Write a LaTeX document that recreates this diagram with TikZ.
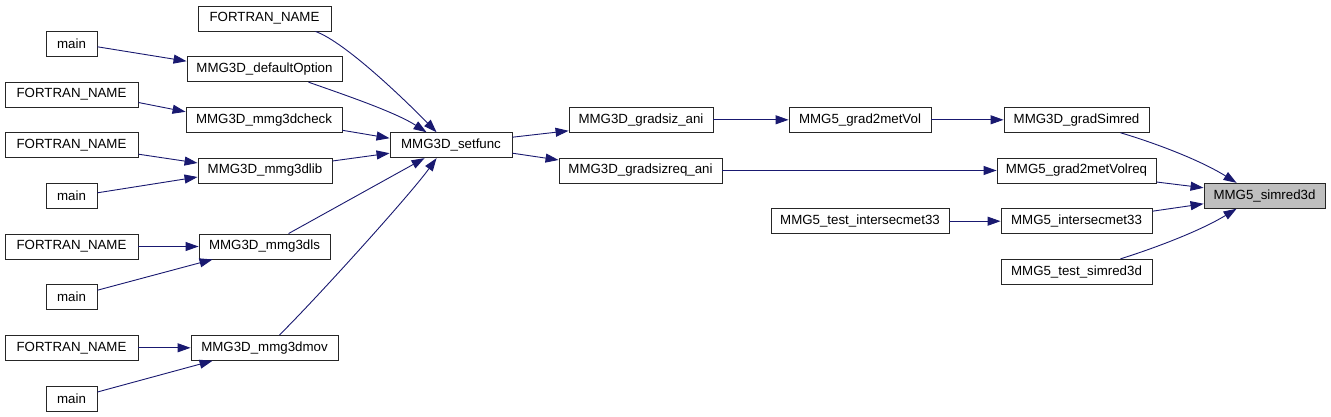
\documentclass[tikz,border=0pt]{standalone}
\usepackage{fontspec}
\setmainfont{Liberation Sans}
\usetikzlibrary{arrows.meta}
\definecolor{edgecol}{RGB}{25,25,112}
\definecolor{hl}{RGB}{191,191,191}
\begin{document}
\begin{tikzpicture}[x=1pt,y=-1pt,
  box/.style={draw=black!85, line width=0.9pt, fill=white, inner sep=0pt,
    minimum height=25pt, font=\fontsize{13.3}{16}\selectfont},
  edge/.style={draw=edgecol, line width=0.9pt, -{Triangle[length=13pt,width=9pt]}}]
\useasboundingbox[fill=white] (0,0) rectangle (1331,417);
% left column
\node[box,minimum width=133pt] (fn1) at (264.5,18.5) {FORTRAN\_NAME};
\node[box,minimum width=51pt] (m1) at (71.5,43.8) {main};
\node[box,minimum width=155pt] (defopt) at (264.5,69.2) {MMG3D\_defaultOption};
\node[box,minimum width=133pt] (fn2) at (71.5,94.5) {FORTRAN\_NAME};
\node[box,minimum width=156pt] (check) at (264,119.8) {MMG3D\_mmg3dcheck};
\node[box,minimum width=133pt] (fn3) at (71.5,145.2) {FORTRAN\_NAME};
\node[box,minimum width=134pt] (lib) at (265,170.5) {MMG3D\_mmg3dlib};
\node[box,minimum width=51pt] (m2) at (71.5,195.8) {main};
\node[box,minimum width=133pt] (fn4) at (71.5,246.5) {FORTRAN\_NAME};
\node[box,minimum width=131pt] (dls) at (264.5,246.5) {MMG3D\_mmg3dls};
\node[box,minimum width=51pt] (m3) at (71.5,297.2) {main};
\node[box,minimum width=133pt] (fn5) at (71.5,347.8) {FORTRAN\_NAME};
\node[box,minimum width=147pt] (dmov) at (264.5,347.8) {MMG3D\_mmg3dmov};
\node[box,minimum width=51pt] (m4) at (71.5,398.5) {main};
% middle
\node[box,minimum width=122pt] (setf) at (451,145.2) {MMG3D\_setfunc};
\node[box,minimum width=144pt] (gsa) at (641,119.8) {MMG3D\_gradsiz\_ani};
\node[box,minimum width=163pt] (gsra) at (640.5,170.5) {MMG3D\_gradsizreq\_ani};
\node[box,minimum width=142pt] (g2mv) at (860,119.8) {MMG5\_grad2metVol};
\node[box,minimum width=178pt] (tint) at (860,221.2) {MMG5\_test\_intersecmet33};
% right
\node[box,minimum width=145pt] (gsim) at (1076.5,119.8) {MMG3D\_gradSimred};
\node[box,minimum width=159pt] (g2mvr) at (1076.5,170.5) {MMG5\_grad2metVolreq};
\node[box,minimum width=151pt] (inter) at (1076.5,221.2) {MMG5\_intersecmet33};
\node[box,minimum width=151pt] (tsim) at (1076.5,271.8) {MMG5\_test\_simred3d};
\node[box,minimum width=121pt,fill=hl] (sim) at (1264.5,195.8) {MMG5\_simred3d};
% edges left
\draw[edge] ([yshift=-3pt]m1.east) -- ([yshift=8pt]defopt.west);
\draw[edge] ([yshift=-8pt]fn2.east) -- ([yshift=8pt]check.west);
\draw[edge] ([yshift=-9pt]fn3.east) -- ([yshift=7.5pt]lib.west);
\draw[edge] ([yshift=3pt]m2.east) -- ([yshift=-6.5pt]lib.west);
\draw[edge] (fn4.east) -- (dls.west);
\draw[edge] ([yshift=7pt]m3.east) -- ([xshift=14pt]dls.south west);
\draw[edge] (fn5.east) -- (dmov.west);
\draw[edge] ([yshift=6.5pt]m4.east) -- ([xshift=22pt]dmov.south west);
% into setfunc
\draw[edge] ([xshift=-16pt]fn1.south east) .. controls (345,42) and (405,100) .. ([xshift=47pt]setf.north west);
\draw[edge] ([xshift=-34pt]defopt.south east) .. controls (345,95) and (395,112) .. ([xshift=37pt]setf.north west);
\draw[edge] ([yshift=-10.5pt]check.east) -- ([yshift=7pt]setf.west);
\draw[edge] ([yshift=9.5pt]lib.east) -- ([yshift=-8pt]setf.west);
\draw[edge] ([xshift=90pt]dls.north west) -- ([xshift=35pt]setf.south west);
\draw[edge] ([xshift=89pt]dmov.north west) .. controls (315,300) and (410,195) .. ([xshift=47pt]setf.south west);
% from setfunc
\draw[edge] ([yshift=8pt]setf.east) -- ([yshift=-11pt]gsa.west);
\draw[edge] ([yshift=-8pt]setf.east) -- ([yshift=10.5pt]gsra.west);
\draw[edge] (gsa.east) -- (g2mv.west);
\draw[edge] (g2mv.east) -- (gsim.west);
\draw[edge] (gsra.east) -- (g2mvr.west);
\draw[edge] (tint.east) -- (inter.west);
% into simred3d
\draw[edge] ([xshift=-29pt]gsim.south east) .. controls (1155,143) and (1200,160) .. ([xshift=33pt]sim.north west);
\draw[edge] ([yshift=-11.5pt]g2mvr.east) -- ([yshift=8pt]sim.west);
\draw[edge] ([yshift=10pt]inter.east) -- ([yshift=-8pt]sim.west);
\draw[edge] ([xshift=-32pt]tsim.north east) .. controls (1155,248) and (1200,231) .. ([xshift=33pt]sim.south west);
\end{tikzpicture}
\end{document}
